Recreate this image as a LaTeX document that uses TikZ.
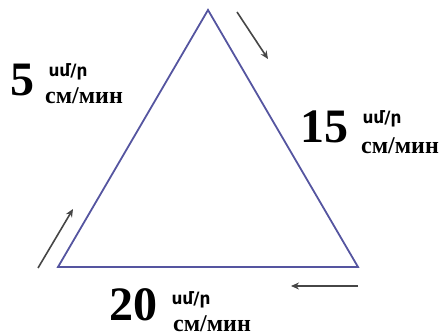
\documentclass[tikz,border=0pt]{standalone}
\usepackage{fontspec}
\setmainfont{Liberation Serif}
\newfontfamily\armfont{DejaVu Sans}
\usetikzlibrary{arrows.meta}
\definecolor{triblue}{RGB}{85,85,160}
\definecolor{arrgray}{RGB}{70,70,70}
\begin{document}
\begin{tikzpicture}[x=1pt,y=-1pt,
  num/.style={inner sep=0pt,font=\fontsize{48}{48}\selectfont\bfseries},
  arm/.style={inner sep=0pt,font=\fontsize{17}{17}\selectfont\armfont\bfseries},
  cyr/.style={inner sep=0pt,font=\fontsize{24}{24}\selectfont\bfseries},
  flow/.style={draw=arrgray,line width=1.6pt,-{Stealth[length=8pt,width=7pt]}}]
\useasboundingbox (0,0) rectangle (442,336);
\coordinate (A) at (208,10);
\coordinate (B) at (58,267);
\coordinate (C) at (358,267);
\draw[triblue,line width=1.8pt,line join=miter] (A) -- (B) -- (C) -- cycle;
\coordinate (r1) at (237,12);
\coordinate (r2) at (268,59);
\coordinate (l1) at (38,268);
\coordinate (l2) at (73,209);
\coordinate (b1) at (358,286);
\coordinate (b2) at (291,286);
\draw[flow] (r1) -- (r2);
\draw[flow] (l1) -- (l2);
\draw[flow] (b1) -- (b2);
\node[num] (n5) at (22,80) {5};
\node[arm] (a5) at (68,72) {սմ/ր};
\node[cyr] (c5) at (84,96) {см/мин};
\node[num] (n15) at (324,127) {15};
\node[arm] (a15) at (382,119) {սմ/ր};
\node[cyr] (c15) at (400,146) {см/мин};
\node[num] (n20) at (133,305) {20};
\node[arm] (a20) at (191,300) {սմ/ր};
\node[cyr] (c20) at (212,324) {см/мин};
\end{tikzpicture}
\end{document}
